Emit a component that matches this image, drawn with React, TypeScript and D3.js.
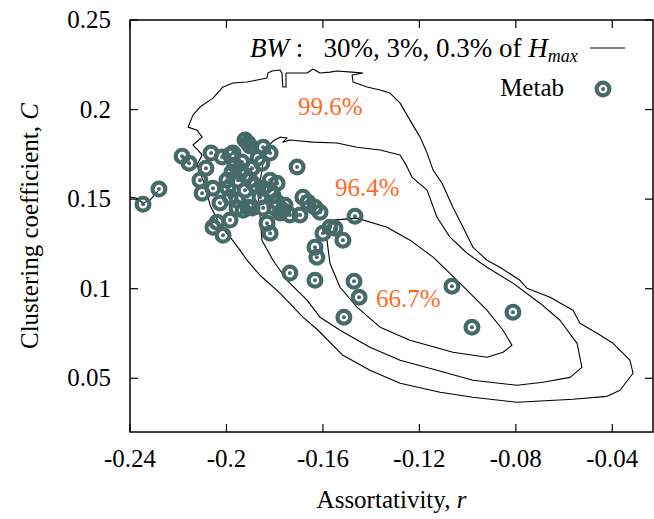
import React from "react";
import * as d3 from "d3";

// ---------- data ----------
const xTicks = [-0.24, -0.2, -0.16, -0.12, -0.08, -0.04];
const xTickLabels = ["-0.24", "-0.2", "-0.16", "-0.12", "-0.08", "-0.04"];
const yTicks = [0.05, 0.1, 0.15, 0.2, 0.25];
const yTickLabels = ["0.05", "0.1", "0.15", "0.2", "0.25"];

// 99.6% contour (outer)
const contour996: [number, number][] = [
  [-0.2139, 0.1969], [-0.211, 0.2014], [-0.2056, 0.2064], [-0.2014, 0.2126], [-0.1973, 0.2148],
  [-0.1915, 0.2154], [-0.1873, 0.2165], [-0.1832, 0.2176], [-0.1828, 0.2204], [-0.1811, 0.2215],
  [-0.1778, 0.2221], [-0.177, 0.2204], [-0.1766, 0.2126], [-0.1753, 0.2126], [-0.1753, 0.2204],
  [-0.1737, 0.2204], [-0.1695, 0.2204], [-0.1666, 0.2204], [-0.1641, 0.2226], [-0.1612, 0.2204],
  [-0.1571, 0.2209], [-0.1542, 0.2215], [-0.1479, 0.2209], [-0.1434, 0.2204], [-0.1479, 0.2193],
  [-0.1475, 0.2154], [-0.1417, 0.2126], [-0.1363, 0.2109], [-0.1322, 0.2092], [-0.128, 0.2036],
  [-0.1239, 0.1941], [-0.1197, 0.1846], [-0.1168, 0.1757], [-0.1143, 0.1662], [-0.1106, 0.1589],
  [-0.1061, 0.1455], [-0.1019, 0.1343], [-0.0978, 0.1232], [-0.092, 0.1159], [-0.0866, 0.112],
  [-0.0783, 0.1047], [-0.0754, 0.1003], [-0.0658, 0.0952], [-0.0563, 0.088], [-0.0534, 0.0807],
  [-0.0463, 0.0751], [-0.0397, 0.0695], [-0.0327, 0.0601], [-0.0314, 0.0528], [-0.0368, 0.0433],
  [-0.0422, 0.0399], [-0.0563, 0.0383], [-0.0795, 0.0366], [-0.0978, 0.0394], [-0.1114, 0.0422],
  [-0.128, 0.0472], [-0.1405, 0.0545], [-0.1517, 0.0628], [-0.162, 0.0768], [-0.1683, 0.0841],
  [-0.1778, 0.0975], [-0.1861, 0.1075], [-0.1915, 0.1159], [-0.1944, 0.1215], [-0.1985, 0.1288],
  [-0.2027, 0.1355], [-0.2068, 0.1466], [-0.2089, 0.1578], [-0.2122, 0.169], [-0.2101, 0.1746],
  [-0.2118, 0.1774], [-0.2139, 0.1802], [-0.2101, 0.1846], [-0.2122, 0.1885], [-0.2159, 0.1902],
  [-0.2139, 0.1969],
];
// 99.6% contour, piece at the left border
const contour996Left: [number, number][] = [
  [-0.24, 0.1511], [-0.2375, 0.1506], [-0.2346, 0.1478], [-0.2317, 0.1494], [-0.2284, 0.1545],
];
// 96.4% contour (middle)
const contour964: [number, number][] = [
  [-0.1807, 0.1824], [-0.1778, 0.1846], [-0.1749, 0.1841], [-0.1766, 0.1818], [-0.1737, 0.183],
  [-0.1641, 0.1818], [-0.1542, 0.1813], [-0.1459, 0.179], [-0.1363, 0.1774], [-0.128, 0.1746],
  [-0.1255, 0.169], [-0.1231, 0.1623], [-0.1168, 0.155], [-0.1127, 0.1399], [-0.1073, 0.1288],
  [-0.1002, 0.1198], [-0.092, 0.112], [-0.0812, 0.1031], [-0.07, 0.0919], [-0.0617, 0.0824],
  [-0.0546, 0.0695], [-0.0526, 0.0561], [-0.0575, 0.0505], [-0.0687, 0.0478], [-0.0795, 0.0461],
  [-0.0978, 0.0489], [-0.1127, 0.0545], [-0.128, 0.0601], [-0.1405, 0.0673], [-0.1529, 0.0768],
  [-0.1612, 0.0841], [-0.1666, 0.0936], [-0.1749, 0.1047], [-0.1807, 0.1159], [-0.1853, 0.1271],
  [-0.1861, 0.1411], [-0.1869, 0.1522], [-0.1853, 0.1662], [-0.184, 0.1774], [-0.1807, 0.1824],
];
// 66.7% contour (inner)
const contour667: [number, number][] = [
  [-0.1558, 0.1383], [-0.1459, 0.1394], [-0.1334, 0.1343], [-0.1239, 0.1271], [-0.1143, 0.1176],
  [-0.1032, 0.1031], [-0.092, 0.088], [-0.0853, 0.0768], [-0.0816, 0.0684], [-0.0853, 0.0645],
  [-0.092, 0.0617], [-0.1061, 0.0645], [-0.1239, 0.0712], [-0.1363, 0.0785], [-0.1459, 0.0897],
  [-0.1529, 0.1008], [-0.1571, 0.1142], [-0.1583, 0.1271], [-0.1558, 0.1383],
];

const contourLabels = ["99.6%", "96.4%", "66.7%"];
const contourLabelR = [-0.1703, -0.155, -0.138];
const contourLabelC = [0.1969, 0.1517, 0.0897];

// Metab networks: assortativity r, clustering C
const metab: [number, number][] = [
  [-0.2346, 0.1472], [-0.228, 0.1556], [-0.2184, 0.174], [-0.2155, 0.1701], [-0.2064, 0.1757],
  [-0.211, 0.1606], [-0.2101, 0.1533], [-0.2085, 0.1673], [-0.2056, 0.1343], [-0.2014, 0.1299],
  [-0.2039, 0.1371], [-0.1985, 0.1383], [-0.1956, 0.145], [-0.1931, 0.1438], [-0.1911, 0.1455],
  [-0.2027, 0.1478], [-0.1985, 0.1511], [-0.1956, 0.1494], [-0.1923, 0.155], [-0.2056, 0.1561],
  [-0.1998, 0.1606], [-0.2018, 0.1735], [-0.1985, 0.1746], [-0.1973, 0.1757], [-0.1923, 0.183],
  [-0.1911, 0.1813], [-0.1902, 0.1796], [-0.1848, 0.179], [-0.1819, 0.1757], [-0.1853, 0.1701],
  [-0.1869, 0.1729], [-0.1965, 0.169], [-0.1944, 0.1662], [-0.1923, 0.1634], [-0.1952, 0.1606],
  [-0.1902, 0.1606], [-0.1977, 0.1651], [-0.1936, 0.1707], [-0.1894, 0.1673], [-0.1994, 0.1561],
  [-0.1882, 0.1578], [-0.1707, 0.1679], [-0.1861, 0.1511], [-0.1848, 0.1561], [-0.1819, 0.1606],
  [-0.179, 0.1589], [-0.1807, 0.1522], [-0.179, 0.1483], [-0.1832, 0.1366], [-0.1819, 0.131],
  [-0.1766, 0.1438], [-0.1778, 0.1422], [-0.1683, 0.1511], [-0.1662, 0.1483], [-0.1633, 0.1455],
  [-0.1612, 0.1427], [-0.1695, 0.1411], [-0.1571, 0.1343], [-0.16, 0.131], [-0.1517, 0.1271],
  [-0.1633, 0.1232], [-0.1625, 0.1176], [-0.1467, 0.1405], [-0.1737, 0.1087], [-0.1633, 0.1047],
  [-0.1471, 0.1042], [-0.145, 0.0952], [-0.1513, 0.0841], [-0.1065, 0.1014], [-0.0812, 0.0869],
  [-0.0982, 0.0785], [-0.1757, 0.1466], [-0.1737, 0.1411], [-0.1799, 0.145], [-0.1848, 0.145],
  [-0.1894, 0.145], [-0.155, 0.1338], [-0.1819, 0.155],
];

const TEAL = "#466a68";
const ORANGE = "#ff6a1f";
const FONT = "'Times New Roman', 'Liberation Serif', Times, serif";

const W = 654;
const H = 519;
const left = 130;
const right = 653;
const top = 20;
const bottom = 432;

function Marker({ cx, cy }: { cx: number; cy: number }) {
  return (
    <g>
      <circle cx={cx} cy={cy} r={6.4} fill="none" stroke={TEAL} strokeWidth={4.2} />
      <circle cx={cx} cy={cy} r={2} fill={TEAL} />
    </g>
  );
}

export default function App() {
  const x = d3.scaleLinear().domain([-0.24, -0.02312]).range([left, right]);
  const y = d3.scaleLinear().domain([0.02, 0.25]).range([bottom, top]);
  const line = d3
    .line<[number, number]>()
    .x((d) => x(d[0]))
    .y((d) => y(d[1]));

  const contours = [contour996, contour996Left, contour964, contour667];
  const tf = { fontFamily: FONT };

  return (
    <svg
      width={W}
      height={H}
      style={{ position: "absolute", left: 0, top: 0, background: "#fff" }}
    >
      <defs>
        <clipPath id="plotclip">
          <rect x={left} y={top} width={right - left} height={bottom - top} />
        </clipPath>
      </defs>
      <rect x={0} y={0} width={W} height={H} fill="#fff" />

      {/* contours */}
      <g clipPath="url(#plotclip)">
        {contours.map((c, i) => (
          <path key={i} d={line(c) || ""} fill="none" stroke="#000" strokeWidth={1.1} strokeLinejoin="round" />
        ))}
      </g>

      {/* contour labels */}
      {contourLabels.map((t, i) => (
        <text key={t} x={x(contourLabelR[i])} y={y(contourLabelC[i])} fill={ORANGE} fontSize={25} style={tf}>
          {t}
        </text>
      ))}

      {/* points */}
      <g clipPath="url(#plotclip)">
        {metab.map((d, i) => (
          <Marker key={i} cx={x(d[0])} cy={y(d[1])} />
        ))}
      </g>

      {/* frame */}
      <rect x={left} y={top} width={right - left} height={bottom - top} fill="none" stroke="#000" strokeWidth={1.5} />

      {/* x ticks */}
      {xTicks.map((t, i) => (
        <g key={"x" + i}>
          <line x1={x(t)} x2={x(t)} y1={bottom} y2={bottom - 8} stroke="#000" strokeWidth={1.2} />
          <line x1={x(t)} x2={x(t)} y1={top} y2={top + 8} stroke="#000" strokeWidth={1.2} />
          <text x={x(t)} y={467} textAnchor="middle" fontSize={25} style={tf}>
            {xTickLabels[i]}
          </text>
        </g>
      ))}

      {/* y ticks */}
      {yTicks.map((t, i) => (
        <g key={"y" + i}>
          <line x1={left} x2={left + 8} y1={y(t)} y2={y(t)} stroke="#000" strokeWidth={1.2} />
          <line x1={right} x2={right - 8} y1={y(t)} y2={y(t)} stroke="#000" strokeWidth={1.2} />
          <text x={111} y={y(t) + 8} textAnchor="end" fontSize={25} style={tf}>
            {yTickLabels[i]}
          </text>
        </g>
      ))}

      {/* axis titles */}
      <text x={(left + right) / 2} y={508} textAnchor="middle" fontSize={25} style={tf}>
        Assortativity, <tspan fontStyle="italic">r</tspan>
      </text>
      <text transform={`translate(38, 226) rotate(-90)`} textAnchor="middle" fontSize={25} style={tf}>
        Clustering coefficient, <tspan fontStyle="italic">C</tspan>
      </text>

      {/* legend */}
      <text x={250} y={57} textAnchor="start" fontSize={27} style={{ ...tf, whiteSpace: "pre" }}>
        <tspan fontStyle="italic">BW</tspan>
        <tspan>{" :   30%, 3%, 0.3% of "}</tspan>
        <tspan fontStyle="italic">H</tspan>
        <tspan fontStyle="italic" fontSize={18} dy={5}>max</tspan>
      </text>
      <line x1={590} x2={625} y1={48} y2={48} stroke="#000" strokeWidth={1.1} />
      <text x={564} y={96} textAnchor="end" fontSize={25} style={tf}>
        Metab
      </text>
      <Marker cx={603} cy={89} />
    </svg>
  );
}
